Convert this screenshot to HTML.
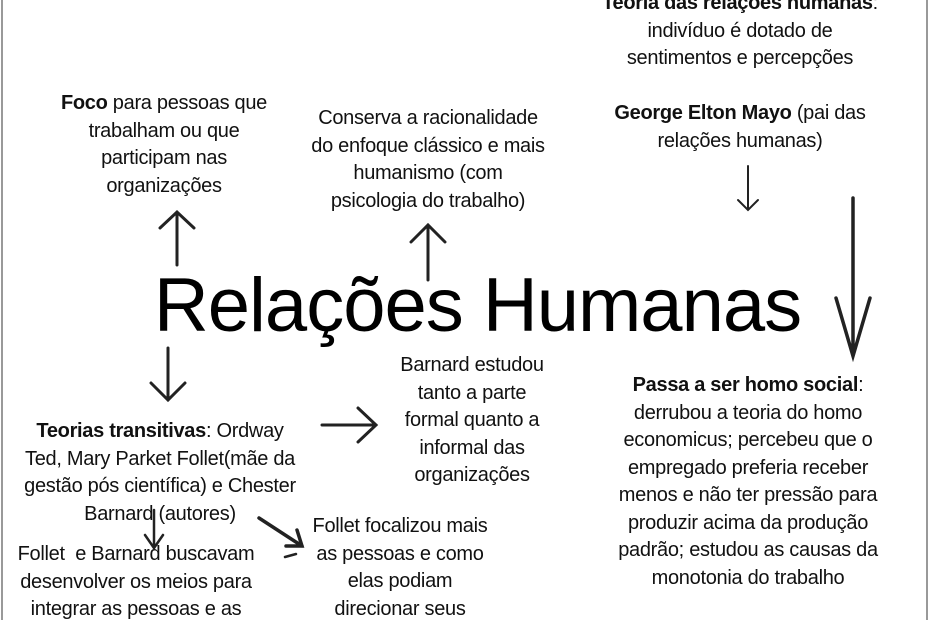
<!DOCTYPE html>
<html><head><meta charset="utf-8"><style>
html,body{margin:0;padding:0}
body{width:930px;height:620px;position:relative;overflow:hidden;background:#fff;font-family:"Liberation Sans",sans-serif;color:#111}
.t{position:absolute;width:420px;text-align:center;font-size:20px;line-height:27.5px;white-space:nowrap;letter-spacing:-0.3px}
b{font-weight:bold}
.title{position:absolute;left:0;width:955px;text-align:center;top:261px;font-size:76px;line-height:90px;letter-spacing:-1px;color:#000}
svg{position:absolute;left:0;top:0}
</style></head><body>
<div style="position:absolute;left:1px;top:0;width:2px;height:620px;background:#999"></div>
<div style="position:absolute;left:926px;top:0;width:2px;height:620px;background:#999"></div>

<div class="t" style="left:530px;top:-10px"><b>Teoria das relações humanas</b>:<br>indivíduo é dotado de<br>sentimentos e percepções</div>
<div class="t" style="left:530px;top:100px"><b>George Elton Mayo</b> (pai das<br>relações humanas)</div>
<div class="t" style="left:-46px;top:90px"><b>Foco</b> para pessoas que<br>trabalham ou que<br>participam nas<br>organizações</div>
<div class="t" style="left:218px;top:105px">Conserva a racionalidade<br>do enfoque clássico e mais<br>humanismo (com<br>psicologia do trabalho)</div>
<div class="title">Relações Humanas</div>
<div class="t" style="left:262px;top:352px">Barnard estudou<br>tanto a parte<br>formal quanto a<br>informal das<br>organizações</div>
<div class="t" style="left:-50px;top:418px"><b>Teorias transitivas</b>: Ordway<br>Ted, Mary Parket Follet(mãe da<br>gestão pós científica) e Chester<br>Barnard (autores)</div>
<div class="t" style="left:538px;top:372px"><b>Passa a ser homo social</b>:<br>derrubou a teoria do homo<br>economicus; percebeu que o<br>empregado preferia receber<br>menos e não ter pressão para<br>produzir acima da produção<br>padrão; estudou as causas da<br>monotonia do trabalho</div>
<div class="t" style="left:-74px;top:541px">Follet&nbsp; e Barnard buscavam<br>desenvolver os meios para<br>integrar as pessoas e as</div>
<div class="t" style="left:190px;top:513px">Follet focalizou mais<br>as pessoas e como<br>elas podiam<br>direcionar seus</div>

<svg width="930" height="620" fill="none" stroke="#222" stroke-width="3" stroke-linecap="round">
<path d="M177 265V212M160 228L177 212L194 228"/>
<path d="M428 280V225M411 242L428 225L445 242"/>
<path d="M168 348V400M151 383L168 400L185 383"/>
<path d="M748 166V210M738 200L748 210L758 200" stroke-width="2"/>
<path d="M853 198V356M836 298L853 356L870 298" stroke-width="3.5"/>
<path d="M322 425H376M358 408L376 425L358 442"/>
<path d="M154 510V548M145 535L154 548L163 535" stroke-width="2.5"/>
<path d="M259 518L302 546M286 546L302 546L297 530" stroke-width="3.5"/>
<path d="M285 557L296 554" stroke-width="2.5"/>
</svg>
</body></html>
